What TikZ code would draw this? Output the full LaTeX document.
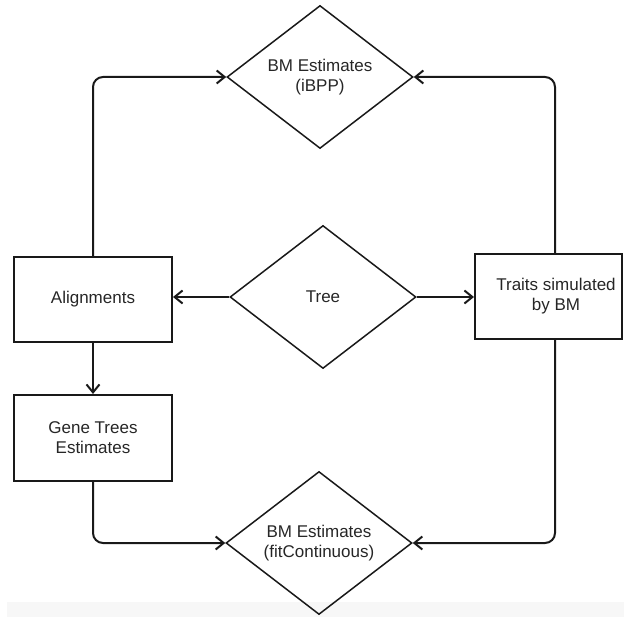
\documentclass[tikz,border=0pt]{standalone}
\usepackage{fontspec}
\setmainfont{Liberation Sans}
\usetikzlibrary{shapes.geometric,arrows.meta}

\tikzset{
  every node/.style={font=\fontsize{17}{20}\selectfont, text=black!85, align=center},
  decision/.style={diamond, draw=black!90, line width=1.5pt, inner sep=0pt,
    shape aspect=1.3, minimum width=186pt, minimum height=143pt},
  stagebox/.style={rectangle, draw=black!90, line width=2pt, inner sep=0pt},
  flow/.style={draw=black!90, line width=2pt, rounded corners=10pt,
    -{Straight Barb[length=8pt,width=13pt]}},
}

\begin{document}
\begin{tikzpicture}[x=1pt,y=-1pt]
  \useasboundingbox (0,0) rectangle (624,617);
  % faint strip along the lower edge
  \fill[black!3] (7,602) rectangle (624,617);

  % estimation steps and inputs
  \node[decision] (ibpp) at (320,77) {BM Estimates\\(iBPP)};
  \node[decision] (tree) at (323,297) {Tree};
  \node[decision] (fit)  at (319,543) {BM Estimates\\(fitContinuous)};

  \node[stagebox, minimum width=158pt, minimum height=85pt] (align) at (93,299.5) {Alignments};
  \node[stagebox, minimum width=158pt, minimum height=86pt] (gene)  at (93,438) {Gene Trees\\Estimates};
  \node[stagebox, minimum width=147pt, minimum height=85pt] (traits) at (548.5,296.5) {};
  \node (traitstext) at ([xshift=7.5pt]traits.center) {Traits simulated\\by BM};

  % connectors
  \draw[flow] (tree.west) -- (align.east |- tree.west);
  \draw[flow] (tree.east) -- (traits.west |- tree.east);
  \draw[flow] (align.south) -- (gene.north);
  \draw[flow] (align.north) |- (ibpp.west);
  \draw[flow] ([xshift=6.5pt]traits.north) |- (ibpp.east);
  \draw[flow] (gene.south) |- (fit.west);
  \draw[flow] ([xshift=6.5pt]traits.south) |- (fit.east);
\end{tikzpicture}
\end{document}
